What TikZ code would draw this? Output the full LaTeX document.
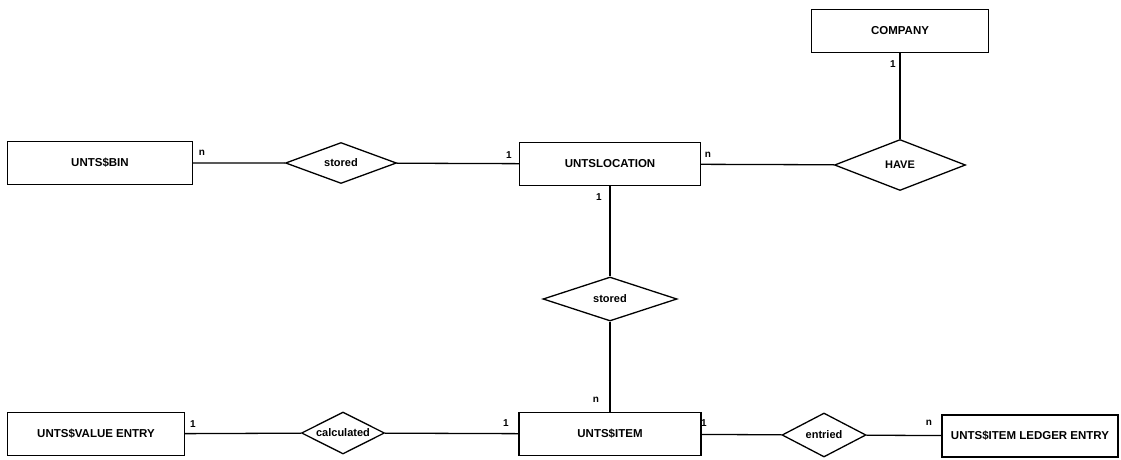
\documentclass[tikz,border=0pt]{standalone}
\usepackage{fontspec}
\setmainfont{Liberation Sans}
\usetikzlibrary{shapes.geometric}

\tikzset{
  entity/.style={draw, line width=1.3pt, rectangle, minimum width=#1, minimum height=43pt,
    inner sep=0pt, font=\fontsize{11.5}{13}\selectfont\bfseries},
  relation/.style={draw, line width=1.3pt, diamond, aspect=2, minimum width=#1, minimum height=44pt,
    inner sep=0pt, font=\fontsize{11}{13}\selectfont\bfseries},
  card/.style={inner sep=0pt, font=\fontsize{10}{11}\selectfont\bfseries},
  link/.style={line width=1.3pt}
}

\begin{document}
\begin{tikzpicture}[x=1pt,y=1pt]
				\useasboundingbox (0,0) rectangle (1121,459);
				% entities and relations
				\node[entity=185pt] (bin) at (100,296) {UNTS\$BIN};
				\node[relation=111pt, minimum height=41pt] (stored1) at (341,296) {stored};
				\node[entity=181pt] (loc) at (610,295) {UNTSLOCATION};
				\node[relation=131pt, minimum height=51pt] (have) at (900,294) {HAVE};
				\node[entity=177pt] (company) at (900,428) {COMPANY};
				\node[relation=134pt] (stored2) at (610,160) {stored};
				\node[entity=182pt] (item) at (610,25) {UNTS\$ITEM};
				\node[entity=177pt] (value) at (96,25) {UNTS\$VALUE ENTRY};
				\node[relation=83pt, minimum height=42pt] (calc) at (343,26) {calculated};
				\node[relation=84pt] (entried) at (824,24) {entried};
				\node[entity=176pt, minimum height=42pt] (ledger) at (1030,23) {UNTS\$ITEM LEDGER ENTRY};
				% connectors
				\draw[link] (bin) -- (stored1) -- (loc) -- (have);
				\draw[link] (company) -- (have);
				\draw[link] (loc) -- (stored2) -- (item);
				\draw[link] (value) -- (calc) -- (item) -- (entried) -- (ledger);
				% cardinalities
				\node[card] (c1) at (202,306) {n};
				\node[card] (c2) at (509,304) {1};
				\node[card] (c3) at (708,304) {n};
				\node[card] (c4) at (599,262) {1};
				\node[card] (c5) at (893,395) {1};
				\node[card] (c6) at (596,59) {n};
				\node[card] (c7) at (506,36) {1};
				\node[card] (c8) at (704,36) {1};
				\node[card] (c9) at (929,36) {n};
				\node[card] (c10) at (193,35) {1};
			\end{tikzpicture}
\end{document}
